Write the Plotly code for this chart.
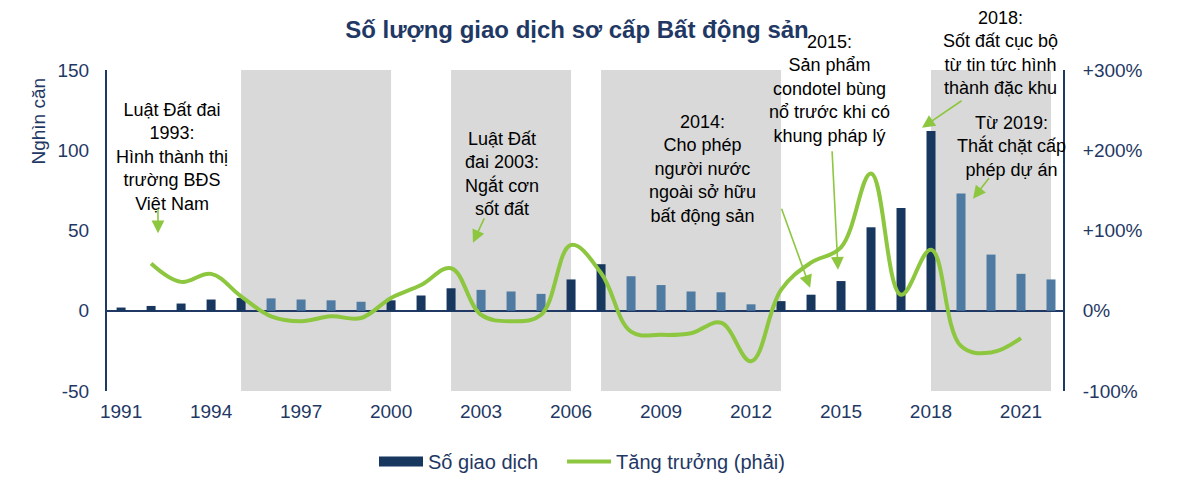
import plotly.graph_objects as go

years = list(range(1991, 2023))
transactions = [2, 3, 4.5, 7, 8, 7.7, 7, 6.5, 5.6, 6.5, 9.5, 14, 13, 12, 10.5, 19.5,
                29, 21.5, 16, 12, 11.5, 4, 6, 10, 18.5, 52, 64, 112, 73, 35, 23, 19.5]

growth_years = list(range(1992, 2022))
growth = [59, 36, 46, 18, -7, -13, -7, -9, 16, 32, 53, -5, -13, -5, 82, 47,
          -26, -30, -28, -15, -63, 26, 60, 79, 171, 20, 76, -44, -52, -34]

shaded = [(1995, 2000), (2002, 2006), (2007, 2013), (2018, 2022)]

left_ticks = [-50, 0, 50, 100, 150]
right_ticks = [-100, 0, 100, 200, 300]
right_labels = ['-100%', '0%', '+100%', '+200%', '+300%']

NAVY = '#17375E'
LIGHT = '#4F7AA2'
GREEN = '#8DC63F'
TXT = '#1F3864'
FONT = 'Liberation Sans, Arial, sans-serif'

# darker bar when the count grew, lighter when it fell
bar_colors = [NAVY] + [NAVY if cur > prev else LIGHT
                       for prev, cur in zip(transactions[:-1], transactions[1:])]

fig = go.Figure()
fig.add_bar(x=years, y=transactions, name='Số giao dịch', marker_color=bar_colors,
            marker_line_width=0, width=0.3, showlegend=False)
# legend stand-in so the bar key is drawn as a wide block
fig.add_scatter(x=[None], y=[None], name='Số giao dịch', mode='lines',
                line=dict(color=NAVY, width=10), legend='legend')
fig.add_scatter(x=growth_years, y=growth, name='Tăng trưởng (phải)', yaxis='y2',
                mode='lines', line=dict(color=GREEN, width=4, shape='spline', smoothing=1.1),
                legend='legend2')

for x0, x1 in shaded:
    fig.add_shape(type='rect', xref='x', yref='paper', x0=x0, x1=x1, y0=0, y1=1,
                  fillcolor='#D9D9D9', line_width=0, layer='below')

notes = [
    (1992.7, 95.5, 'y', 'Luật Đất đai<br>1993:<br>Hình thành thị<br>trường BĐS<br>Việt Nam'),
    (2003.7, 85, 'y', 'Luật Đất<br>đai 2003:<br>Ngắt cơn<br>sốt đất'),
    (2010.37, 88.3, 'y', '2014:<br>Cho phép<br>người nước<br>ngoài sở hữu<br>bất động sản'),
    (2014.63, 138.3, 'y', '2015:<br>Sản phẩm<br>condotel bùng<br>nổ trước khi có<br>khung pháp lý'),
    (2020.33, 1.053, 'paper', '2018:<br>Sốt đất cục bộ<br>từ tin tức hình<br>thành đặc khu'),
    (2020.67, 102.2, 'y', 'Từ 2019:<br>Thắt chặt cấp<br>phép dự án'),
]
for x, y, yref, t in notes:
    fig.add_annotation(x=x, y=y, yref=yref, text=t, showarrow=False,
                       xanchor='center', yanchor='middle',
                       font=dict(family=FONT, size=18, color='#000000'))

arrows = [
    (1992.23, 64.5, 1992.23, 48.3),
    (2003.13, 58.5, 2002.73, 42.4),
    (2013.0, 64.5, 2013.97, 14.3),
    (2014.7, 100.3, 2014.9, 25.5),
    (2019.07, 131.5, 2017.7, 114.0),
    (2019.97, 83.5, 2019.4, 69.8),
]
for ax, ay, x, y in arrows:
    fig.add_annotation(x=x, y=y, ax=ax, ay=ay, xref='x', yref='y', axref='x', ayref='y',
                       text='', showarrow=True, arrowhead=2, arrowsize=1.6, arrowwidth=1.6,
                       arrowcolor=GREEN)

fig.add_annotation(text='Nghìn căn', xref='paper', yref='paper', x=-0.072, y=0.84,
                   textangle=-90, showarrow=False, xanchor='center', yanchor='middle',
                   font=dict(family=FONT, size=19, color=TXT))

legend_style = dict(orientation='h', y=-0.22, xanchor='left', yanchor='middle',
                    itemwidth=44, font=dict(family=FONT, size=20, color=TXT))

# page body has an 8px margin, so the figure is sized to fit the window after it
fig.update_layout(
    width=1192, height=473,
    margin=dict(l=99, r=137, t=62, b=90, autoexpand=False),
    plot_bgcolor='white', paper_bgcolor='white',
    font=dict(family=FONT, size=18, color=TXT),
    title=dict(text='<b>Số lượng giao dịch sơ cấp Bất động sản</b>', x=569 / 1192,
               y=1 - 22 / 473, xref='container', yref='container',
               xanchor='center', yanchor='middle',
               font=dict(family=FONT, size=24, color=TXT)),
    showlegend=True,
    legend=dict(x=0.2793, **legend_style),
    legend2=dict(x=0.476, **legend_style),
    xaxis=dict(range=[1990.53, 2022.4], tickvals=list(range(1991, 2022, 3)),
               showgrid=False, zeroline=False, showline=False, ticks='',
               ticklabelstandoff=7, tickfont=dict(size=19, color=TXT)),
    yaxis=dict(range=[-50, 150], tickvals=left_ticks, ticktext=[str(v) for v in left_ticks],
               showgrid=False, zeroline=True, zerolinecolor=TXT, zerolinewidth=1.5,
               showline=True, linecolor=TXT, linewidth=2, ticks='', ticklabelstandoff=12,
               tickfont=dict(size=19, color=TXT)),
    yaxis2=dict(range=[-100, 300], tickvals=right_ticks, ticktext=right_labels,
                overlaying='y', side='right', showgrid=False, zeroline=False,
                showline=True, linecolor=TXT, linewidth=2, ticks='', ticklabelstandoff=14,
                tickfont=dict(size=19, color=TXT)),
)

fig.write_html("out.html")
